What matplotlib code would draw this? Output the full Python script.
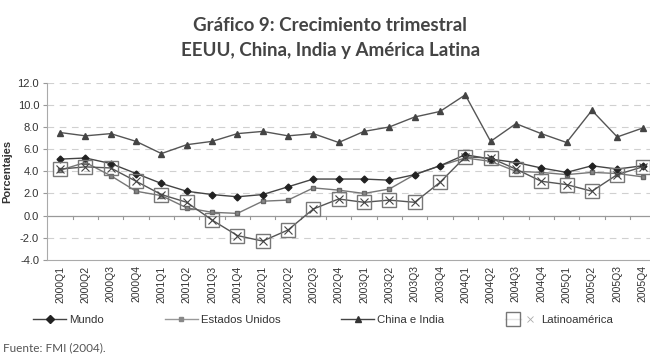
import numpy as np
from matplotlib import pyplot as plt
from matplotlib.lines import Line2D
from matplotlib.legend_handler import HandlerTuple

quarters = ['2000Q1', '2000Q2', '2000Q3', '2000Q4', '2001Q1', '2001Q2', '2001Q3', '2001Q4',
            '2002Q1', '2002Q2', '2002Q3', '2002Q4', '2003Q1', '2003Q2', '2003Q3', '2003Q4',
            '2004Q1', '2004Q2', '2004Q3', '2004Q4', '2005Q1', '2005Q2', '2005Q3', '2005Q4']

mundo = [5.1, 5.2, 4.7, 3.8, 2.9, 2.2, 1.9, 1.7, 1.9, 2.6, 3.3, 3.3,
         3.3, 3.2, 3.7, 4.5, 5.5, 5.1, 4.8, 4.3, 3.9, 4.5, 4.2, 4.5]
estados_unidos = [4.1, 4.8, 3.6, 2.2, 1.8, 0.7, 0.3, 0.2, 1.3, 1.4, 2.5, 2.3,
                  2.0, 2.4, 3.7, 4.5, 5.2, 4.9, 4.0, 3.9, 3.7, 3.9, 3.8, 3.5]
china_india = [7.5, 7.2, 7.4, 6.7, 5.6, 6.4, 6.7, 7.4, 7.6, 7.2, 7.4, 6.6,
               7.6, 8.0, 8.9, 9.4, 10.9, 6.7, 8.3, 7.4, 6.6, 9.5, 7.1, 7.9]
latinoamerica = [4.2, 4.4, 4.3, 3.1, 1.9, 1.2, -0.4, -1.8, -2.3, -1.3, 0.6, 1.5,
                 1.2, 1.4, 1.2, 3.0, 5.3, 5.2, 4.2, 3.1, 2.8, 2.2, 3.7, 4.4]

yticks = np.arange(-4, 13, 2)

fig = plt.figure(figsize=(6.5, 3.61), dpi=100)
ax = fig.add_axes([0.073, 0.280, 0.935, 0.491])

x = np.arange(len(quarters))

# grid lines
for yv in yticks:
    if yv in (0, -4):
        continue
    ax.axhline(yv, color='#d0d0d0', lw=0.8, ls=(0, (6, 5)), zorder=0)
ax.axhline(0, color='#999999', lw=0.9, zorder=1)
for xb in np.arange(0.5, len(quarters) - 0.5, 1):
    ax.plot([xb, xb], [0, -0.3], color='#999999', lw=0.8, zorder=1, clip_on=False)

ax.plot(x, china_india, color='#555555', lw=1.0, marker='^', ms=4.5,
        mfc='#444444', mec='#444444', zorder=3)
ax.plot(x, estados_unidos, color='#777777', lw=1.0, marker='s', ms=3.5,
        mfc='#888888', mec='#666666', zorder=3)
ax.plot(x, mundo, color='#444444', lw=1.0, marker='D', ms=3.5,
        mfc='#222222', mec='#222222', zorder=4)
ax.plot(x, latinoamerica, color='#555555', lw=1.0, zorder=4)
ax.plot(x, latinoamerica, ls='none', marker='s', ms=10, mfc='none',
        mec='#777777', mew=1.0, zorder=5)
ax.plot(x, latinoamerica, ls='none', marker='x', ms=6, mec='#444444',
        mew=0.8, zorder=5)

ax.set_xlim(-0.5, len(quarters) - 0.5)
ax.set_ylim(-4, 12)
ax.set_yticks(yticks)
ax.set_yticklabels(['%.1f' % v for v in yticks], fontsize=8, color='#333333',
                   family='Liberation Sans')
ax.set_xticks(x)
ax.set_xticklabels(quarters, rotation=90, fontsize=7.5, color='#333333',
                   family='Liberation Sans')
ax.tick_params(axis='x', length=0, pad=4)
ax.tick_params(axis='y', length=3, color='#999999', pad=3)
ax.set_ylabel('Porcentajes', fontsize=8, fontweight='bold', color='#333333',
              family='Liberation Sans', labelpad=4)

for s in ['top', 'right']:
    ax.spines[s].set_visible(False)
ax.spines['left'].set_color('#aaaaaa')
ax.spines['bottom'].set_color('#aaaaaa')

h_mundo = Line2D([], [], color='#444444', lw=1.0, marker='D', ms=4.5,
                 mfc='#222222', mec='#222222')
h_eeuu = Line2D([], [], color='#999999', lw=1.0, marker='s', ms=3.5,
                mfc='#888888', mec='#888888')
h_china = Line2D([], [], color='#444444', lw=1.0, marker='^', ms=4.5,
                 mfc='#333333', mec='#333333')
h_lat_sq = Line2D([], [], color='#e4e4e4', lw=1.0, marker='s', ms=10,
                  mfc='none', mec='#777777')
h_lat_x = Line2D([], [], ls='none', marker='x', ms=5, mec='#aaaaaa', mew=0.6)
leg = fig.legend([h_mundo, h_eeuu, h_china, (h_lat_sq, h_lat_x)],
                 ['Mundo', 'Estados Unidos', 'China e India', 'Latinoamérica'],
                 handler_map={tuple: HandlerTuple(ndivide=None, pad=0)},
                 loc='center left', bbox_to_anchor=(0.035, 0.113), ncol=4,
                 frameon=False, handlelength=2.9, columnspacing=5.3,
                 handletextpad=0.3, prop={'family': 'Liberation Sans', 'size': 8.2})
for t in leg.get_texts():
    t.set_color('#333333')

fig.text(0.508, 0.929, 'Gráfico 9: Crecimiento trimestral', ha='center', va='center',
         fontsize=13.5, fontweight='bold', color='#444444', family='Lato')
fig.text(0.508, 0.860, 'EEUU, China, India y América Latina', ha='center', va='center',
         fontsize=13.5, fontweight='bold', color='#444444', family='Lato')
fig.text(0.005, 0.036, 'Fuente: FMI (2004).', ha='left', va='center',
         fontsize=8.5, color='#555555', family='Lato')

fig.savefig('out.png', dpi=100)
